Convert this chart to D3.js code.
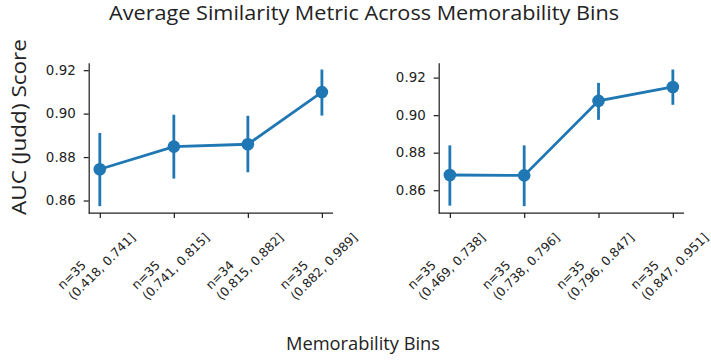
<!DOCTYPE html>
<html>
<head>
<meta charset="utf-8">
<script src="https://cdn.jsdelivr.net/npm/d3@7"></script>
<style>
  html, body { margin: 0; padding: 0; background: #fff; }
  svg { display: block; }
</style>
</head>
<body>
<svg id="chart" width="711" height="360"></svg>
<script>
// ---- data ----
const title = "Average Similarity Metric Across Memorability Bins";
const yLabel = "AUC (Judd) Score";
const xLabel = "Memorability Bins";
const yTicks = [0.86, 0.88, 0.90, 0.92];

const leftCounts = ["n=35", "n=35", "n=34", "n=35"];
const leftRanges = ["(0.418, 0.741]", "(0.741, 0.815]", "(0.815, 0.882]", "(0.882, 0.989]"];
const leftMeans = [0.8744, 0.8848, 0.8859, 0.9099];
const leftLow   = [0.8574, 0.8701, 0.8730, 0.8991];
const leftHigh  = [0.8911, 0.8995, 0.8990, 0.9203];

const rightCounts = ["n=35", "n=35", "n=35", "n=35"];
const rightRanges = ["(0.469, 0.738]", "(0.738, 0.796]", "(0.796, 0.847]", "(0.847, 0.951]"];
const rightMeans = [0.8681, 0.8679, 0.9076, 0.9150];
const rightLow   = [0.8518, 0.8515, 0.8975, 0.9055];
const rightHigh  = [0.8839, 0.8839, 0.9172, 0.9243];

// ---- layout ----
const svg = d3.select("#chart");
const color = "#1f77b4";
const ink = "#222";
const tickFont = "'DejaVu Sans', sans-serif";
const labelFont = "'Open Sans', sans-serif";
const yTickSize = 13.4;
const xTickSize = 12.4;
const plotTop = 62.7, plotBottom = 213;

const panels = [
  {x0: 88.7, x1: 333, counts: leftCounts, ranges: leftRanges, means: leftMeans, low: leftLow, high: leftHigh},
  {x0: 438.7, x1: 684, counts: rightCounts, ranges: rightRanges, means: rightMeans, low: rightLow, high: rightHigh}
];

panels.forEach(p => {
  const idx = p.means.map((_, i) => i);
  const x = d3.scalePoint().domain(idx).range([p.x0, p.x1]).padding(0.15);
  const lo = d3.min(p.low), hi = d3.max(p.high);
  const m = (hi - lo) * 0.05;
  const y = d3.scaleLinear().domain([lo - m, hi + m]).range([plotBottom, plotTop]);

  const g = svg.append("g");

  // y axis
  const ya = g.append("g").attr("transform", `translate(${p.x0},0)`)
    .call(d3.axisLeft(y).tickValues(yTicks).tickFormat(d3.format(".2f")).tickSize(5).tickSizeOuter(0).tickPadding(8));
  ya.select(".domain").attr("stroke", ink).attr("stroke-width", 1.25);
  ya.selectAll(".tick line").attr("stroke", ink).attr("stroke-width", 1.25);
  ya.selectAll(".tick text").attr("font-family", tickFont).attr("font-size", yTickSize).attr("fill", ink);

  // x axis
  const xa = g.append("g").attr("transform", `translate(0,${plotBottom})`)
    .call(d3.axisBottom(x).tickFormat("").tickSize(5).tickSizeOuter(0));
  xa.select(".domain").attr("stroke", ink).attr("stroke-width", 1.25)
    .attr("d", `M${p.x0},0H${p.x1}`);
  xa.selectAll(".tick line").attr("stroke", ink).attr("stroke-width", 1.25);

  // rotated two-line tick labels
  idx.forEach(i => {
    const outer = g.append("g");
    const rot = outer.append("g").attr("transform", "rotate(-45)");
    const t = rot.append("text").attr("font-family", tickFont).attr("font-size", xTickSize).attr("fill", ink);
    t.append("tspan").attr("x", 0).attr("dy", 0).text(p.counts[i]);
    t.append("tspan").attr("x", 0).attr("dy", 15.2).text(p.ranges[i]);
    const bb = t.node().getBBox();
    t.attr("transform", `translate(${-bb.x},${-bb.y})`);
    const W = bb.width, H = bb.height, s = Math.SQRT1_2;
    outer.attr("transform", `translate(${x(i) - (W + H) * s / 2 - 3.5},${plotBottom + 6 + W * s})`);
  });

  // line
  g.append("path")
    .datum(idx)
    .attr("fill", "none").attr("stroke", color).attr("stroke-width", 2.8)
    .attr("d", d3.line().x(i => x(i)).y(i => y(p.means[i])));

  // error bars
  g.selectAll(".err").data(idx).join("line")
    .attr("x1", i => x(i)).attr("x2", i => x(i))
    .attr("y1", i => y(p.low[i])).attr("y2", i => y(p.high[i]))
    .attr("stroke", color).attr("stroke-width", 2.8);

  // markers
  g.selectAll(".pt").data(idx).join("circle")
    .attr("cx", i => x(i)).attr("cy", i => y(p.means[i])).attr("r", 6.3)
    .attr("fill", color);
});

// titles
svg.append("text").attr("x", 364).attr("y", 19.5).attr("text-anchor", "middle")
  .attr("font-family", labelFont).attr("font-size", 20).attr("fill", ink)
  .attr("textLength", 510).attr("lengthAdjust", "spacingAndGlyphs").text(title);

svg.append("text").attr("transform", "translate(26,127) rotate(-90)").attr("text-anchor", "middle")
  .attr("font-family", labelFont).attr("font-size", 20).attr("fill", ink)
  .attr("textLength", 176).attr("lengthAdjust", "spacingAndGlyphs").text(yLabel);

svg.append("text").attr("x", 363).attr("y", 349.5).attr("text-anchor", "middle")
  .attr("font-family", labelFont).attr("font-size", 19).attr("fill", ink)
  .attr("textLength", 154).attr("lengthAdjust", "spacingAndGlyphs").text(xLabel);
</script>
</body>
</html>
